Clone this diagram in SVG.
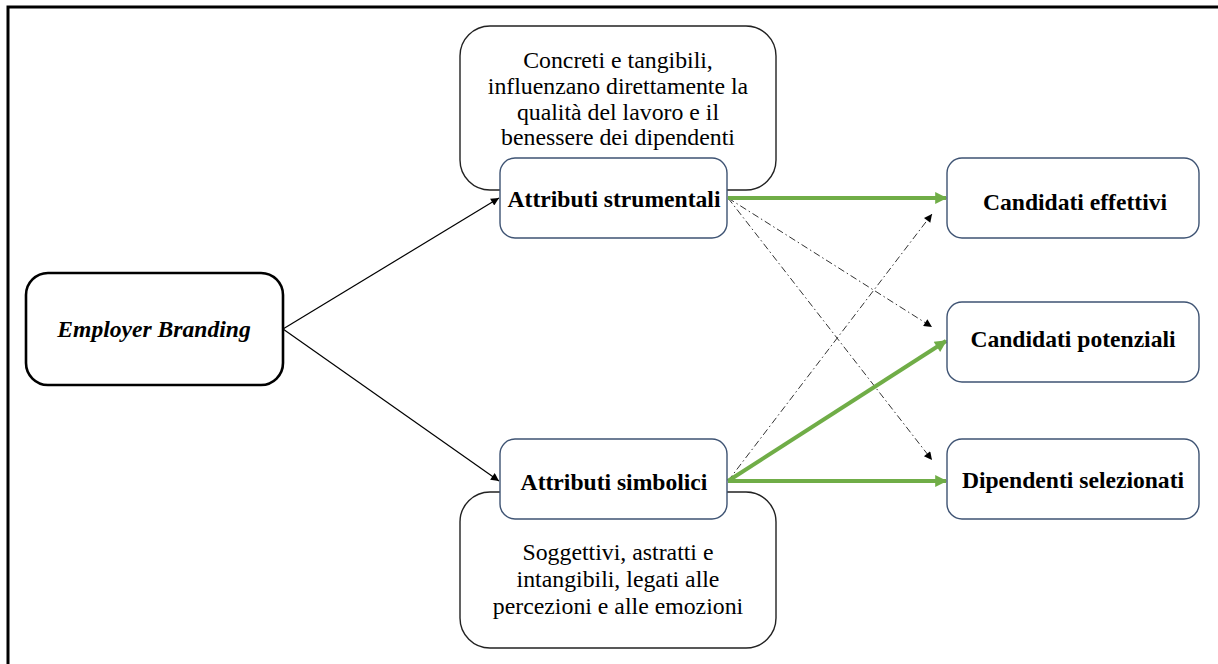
<svg xmlns="http://www.w3.org/2000/svg" width="1218" height="664" viewBox="0 0 1218 664">
  <defs>
    <style>
      .frame { fill: none; stroke: #000; stroke-width: 3; }
      .main { fill: #fff; stroke: #000; stroke-width: 2.6; }
      .note { fill: #fff; stroke: #222; stroke-width: 1.4; }
      .attr { fill: #fff; stroke: #3E5373; stroke-width: 1.4; }
      .txt { font-family: "Liberation Serif", "Times New Roman", serif; fill: #000; text-anchor: middle; }
      .b { font-weight: bold; font-size: 23.6px; }
      .n { font-size: 23.8px; }
      .thin { fill: none; stroke: #000; stroke-width: 1.2; }
      .green { fill: none; stroke: #70AD47; stroke-width: 4; }
      .dd { fill: none; stroke: #333; stroke-width: 1; stroke-dasharray: 7 3 1.5 3; }
    </style>
    <marker id="ah" viewBox="0 0 10 10" refX="10" refY="5" markerWidth="10" markerHeight="8" markerUnits="userSpaceOnUse" orient="auto">
      <path d="M0,0 L10,5 L0,10 Z" fill="#000"/>
    </marker>
    <marker id="ahg" viewBox="0 0 10 10" refX="9" refY="5" markerWidth="16" markerHeight="12" markerUnits="userSpaceOnUse" orient="auto">
      <path d="M0,0 L10,5 L0,10 Z" fill="#70AD47"/>
    </marker>
  </defs>

  <rect width="1218" height="664" fill="#fff"/>
  <path class="frame" d="M8,664 L8,7 L1218,7"/>

  <g id="connectors">
    <line class="thin" x1="283" y1="329" x2="499" y2="198" marker-end="url(#ah)"/>
    <line class="thin" x1="283" y1="329" x2="499" y2="481" marker-end="url(#ah)"/>
    <line class="dd" x1="728" y1="198" x2="932" y2="327" marker-end="url(#ah)"/>
    <line class="dd" x1="728" y1="198" x2="932" y2="460" marker-end="url(#ah)"/>
    <line class="dd" x1="728" y1="481" x2="932" y2="214" marker-end="url(#ah)"/>
    <line class="green" x1="728" y1="198" x2="946" y2="198" marker-end="url(#ahg)"/>
    <line class="green" x1="728" y1="481" x2="946" y2="341" marker-end="url(#ahg)"/>
    <line class="green" x1="728" y1="481" x2="946" y2="481" marker-end="url(#ahg)"/>
  </g>

  <g id="note-strumentali">
    <rect class="note" x="460" y="26" width="316" height="164" rx="30"/>
    <text class="txt n" x="618" y="68">Concreti e tangibili,</text>
    <text class="txt n" x="618" y="94">influenzano direttamente la</text>
    <text class="txt n" x="618" y="119.5">qualità del lavoro e il</text>
    <text class="txt n" x="618" y="145">benessere dei dipendenti</text>
  </g>

  <g id="note-simbolici">
    <rect class="note" x="460" y="492" width="316" height="156" rx="30"/>
    <text class="txt n" x="618" y="560">Soggettivi, astratti e</text>
    <text class="txt n" x="618" y="587">intangibili, legati alle</text>
    <text class="txt n" x="618" y="614">percezioni e alle emozioni</text>
  </g>

  <g id="employer-branding">
    <rect class="main" x="26" y="273" width="257" height="112" rx="22"/>
    <text class="txt b" x="154" y="337" font-style="italic">Employer Branding</text>
  </g>

  <g id="attributi-strumentali">
    <rect class="attr" x="500" y="158" width="227" height="80" rx="15"/>
    <text class="txt b" x="614" y="207">Attributi strumentali</text>
  </g>

  <g id="attributi-simbolici">
    <rect class="attr" x="500" y="439" width="227" height="80" rx="15"/>
    <text class="txt b" x="614" y="490">Attributi simbolici</text>
  </g>

  <g id="candidati-effettivi">
    <rect class="attr" x="947" y="158" width="252" height="80" rx="15"/>
    <text class="txt b" x="1075" y="210">Candidati effettivi</text>
  </g>

  <g id="candidati-potenziali">
    <rect class="attr" x="947" y="302" width="252" height="80" rx="15"/>
    <text class="txt b" x="1073" y="346.5">Candidati potenziali</text>
  </g>

  <g id="dipendenti-selezionati">
    <rect class="attr" x="947" y="439" width="252" height="80" rx="15"/>
    <text class="txt b" x="1073" y="488">Dipendenti selezionati</text>
  </g>
</svg>
